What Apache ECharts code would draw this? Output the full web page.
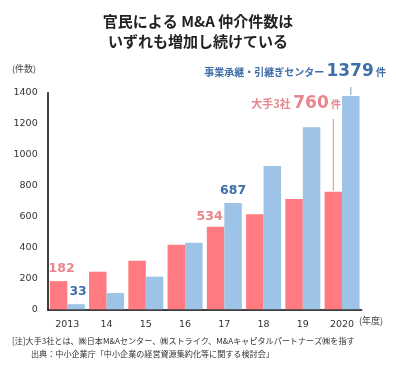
<!DOCTYPE html>
<html><head><meta charset="utf-8">
<script src="https://cdn.jsdelivr.net/npm/echarts@6/dist/echarts.min.js"></script>
<style>html,body{margin:0;padding:0;background:#fff;}#c{width:396px;height:377px;}</style>
</head><body><div id="c"></div>
<script>
var years = ['2013','14','15','16','17','18','19','2020'];
var big3 = [182, 243, 314, 417, 534, 614, 713, 760];
var center = [33, 105, 211, 430, 687, 926, 1176, 1379];
var yTicks = [0, 200, 400, 600, 800, 1000, 1200, 1400];
var titleLines = ['官民による M&A 仲介件数は', 'いずれも増加し続けている'];
var notes = ['[注]大手3社とは、㈱日本M&Aセンター、㈱ストライク、M&Aキャピタルパートナーズ㈱を指す', '出典：中小企業庁「中小企業の経営資源集約化等に関する検討会」'];

var RED = '#FF7B81', BLUE = '#9DC3E6', RED_T = '#E8868B', BLUE_T = '#3F6FA8';
var NUMF = 'DejaVu Sans, Verdana, sans-serif';
var JPF = '"Noto Sans CJK JP", sans-serif';
var BW = 17.5;

var chart = echarts.init(document.getElementById('c'));

function lbl(color, show, dist, off) {
  return { show: show, position: 'top', color: color, fontFamily: NUMF, fontSize: 12.5, fontWeight: 'bold', distance: dist, offset: off || [0, 0] };
}
var redData = big3.map(function (v, i) {
  return { value: v, label: lbl(RED_T, i === 0 || i === 4, i === 0 ? 6 : 3, i === 4 ? [-6, 0] : (i === 0 ? [3, 0] : [0, 0])) };
});
var blueData = center.map(function (v, i) {
  return { value: v, label: lbl(BLUE_T, i === 0 || i === 4, 6, i === 0 ? [2, 0] : [0, 0]) };
});

chart.setOption({
  animation: false,
  grid: { left: 47.7, right: 34.3, top: 92.7, bottom: 67.7 },
  xAxis: {
    type: 'category', data: years,
    axisLine: { lineStyle: { color: '#000', width: 1.5 } },
    axisTick: { show: false },
    axisLabel: { color: '#333', fontFamily: NUMF, fontSize: 9.5, margin: 10 }
  },
  yAxis: {
    type: 'value', min: 0, max: 1400, interval: 200,
    axisLine: { show: true, lineStyle: { color: '#000', width: 1.5 } },
    axisTick: { show: false },
    splitLine: { show: false },
    axisLabel: { color: '#333', fontFamily: NUMF, fontSize: 9.5, margin: 10,
      formatter: function (v) { return yTicks.indexOf(v) >= 0 ? String(v) : ''; } }
  },
  series: [
    { type: 'bar', name: '大手3社', data: redData, barWidth: BW, barGap: '0%', itemStyle: { color: RED } },
    { type: 'bar', name: '事業承継・引継ぎセンター', data: blueData, barWidth: BW, barGap: '0%', itemStyle: { color: BLUE } }
  ]
});

var last = years.length - 1;
var pr = chart.convertToPixel({ xAxisIndex: 0, yAxisIndex: 0 }, [last, big3[last]]);
var pb = chart.convertToPixel({ xAxisIndex: 0, yAxisIndex: 0 }, [last, center[last]]);
var rx = pr[0] - BW / 2, bx = pb[0] + BW / 2;

var g = [];
titleLines.forEach(function (t, i) {
  g.push({ type: 'text', left: 'center', top: 14 + i * 20,
    style: { text: t, font: 'bold 15px ' + JPF, fill: '#222' } });
});
g.push({ type: 'text', left: 12, top: 64, style: { text: '(件数)', font: '9px ' + JPF, fill: '#444' } });
g.push({ type: 'text', left: 359, top: 316, style: { text: '(年度)', font: '9px ' + JPF, fill: '#444' } });
g.push({ type: 'text', left: 12, top: 337, style: { text: notes[0], font: '8.1px ' + JPF, fill: '#333' } });
g.push({ type: 'text', left: 31, top: 350, style: { text: notes[1], font: '8.1px ' + JPF, fill: '#333' } });

g.push({ type: 'line', shape: { x1: rx, y1: pr[1] - 1, x2: rx, y2: 119 }, style: { stroke: RED_T, lineWidth: 1 } });
g.push({ type: 'line', shape: { x1: bx, y1: pb[1] - 1, x2: bx, y2: 87 }, style: { stroke: '#7FA3C8', lineWidth: 1 } });

g.push({ type: 'text', x: 341, y: 104, style: {
  text: '{a|大手3社 }{b|' + big3[last] + '}{c| 件}', align: 'right', verticalAlign: 'middle',
  rich: {
    a: { fontFamily: JPF, fontSize: 11, fontWeight: 'bold', fill: RED_T },
    b: { fontFamily: NUMF, fontSize: 17, fontWeight: 'bold', fill: RED_T },
    c: { fontFamily: JPF, fontSize: 10, fontWeight: 'bold', fill: RED_T }
  } } });
g.push({ type: 'text', x: 386, y: 72, style: {
  text: '{a|事業承継・引継ぎセンター }{b|' + center[last] + '}{c| 件}', align: 'right', verticalAlign: 'middle',
  rich: {
    a: { fontFamily: JPF, fontSize: 10, fontWeight: 'bold', fill: BLUE_T },
    b: { fontFamily: NUMF, fontSize: 17, fontWeight: 'bold', fill: BLUE_T },
    c: { fontFamily: JPF, fontSize: 10, fontWeight: 'bold', fill: BLUE_T }
  } } });

chart.setOption({ graphic: g });
</script></body></html>
